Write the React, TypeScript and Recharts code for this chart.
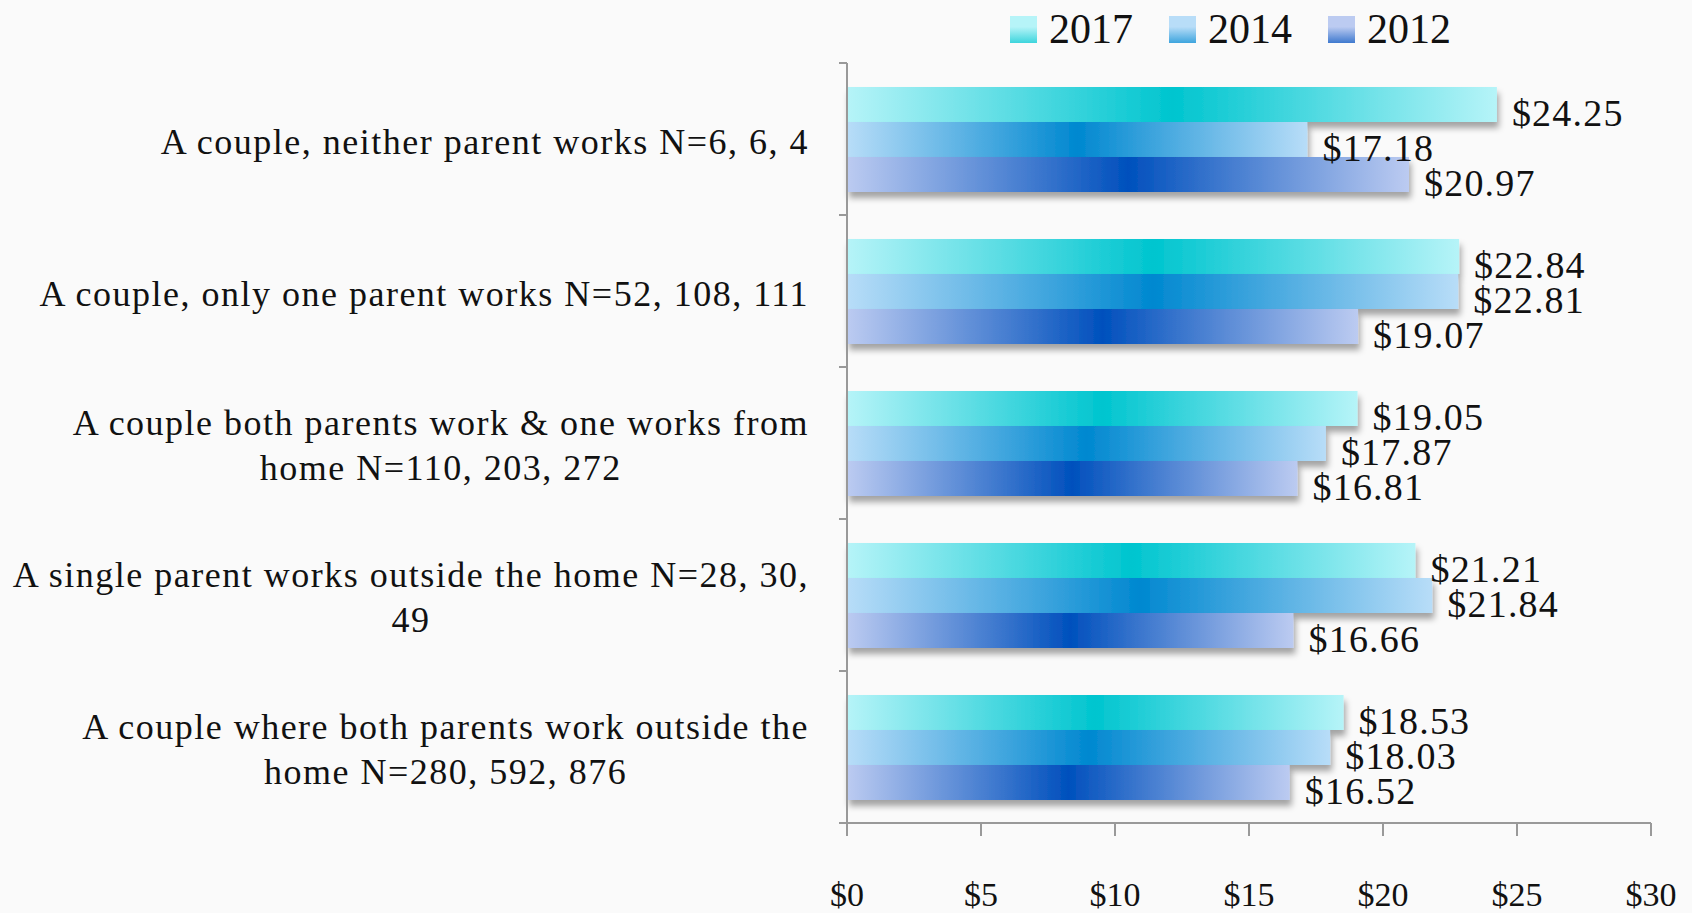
import { useLayoutEffect, useRef, useState } from 'react'
import { BarChart, Bar, XAxis, YAxis, LabelList } from 'recharts'

const categories = [
  'A couple, neither parent works N=6, 6, 4',
  'A couple, only one parent works N=52, 108, 111',
  'A couple both parents work & one works from\nhome N=110, 203, 272',
  'A single parent works outside the home N=28, 30,\n49',
  'A couple where both parents work outside the\nhome N=280, 592, 876',
]
const values2017 = [24.25, 22.84, 19.05, 21.21, 18.53]
const values2014 = [17.18, 22.81, 17.87, 21.84, 18.03]
const values2012 = [20.97, 19.07, 16.81, 16.66, 16.52]
const xTicks = [0, 5, 10, 15, 20, 25, 30]

const series = [
  { key: 'y2017', name: '2017', light: '#b6f4f8', dark: '#00c5cf' },
  { key: 'y2014', name: '2014', light: '#b8ddf8', dark: '#0088d0' },
  { key: 'y2012', name: '2012', light: '#bccbf1', dark: '#0050bd' },
]

const data = categories.map((name, i) => ({
  name,
  y2017: values2017[i],
  y2014: values2014[i],
  y2012: values2012[i],
}))

const FONT = '"Liberation Serif", "Times New Roman", serif'
const HALF_BAND = 76

function CategoryTick(props: any) {
  const { x, y, payload } = props
  const lines: string[] = String(payload.value).split('\n')
  const firstRef = useRef<SVGTextElement>(null)
  const [w, setW] = useState(0)
  useLayoutEffect(() => {
    if (firstRef.current) setW(firstRef.current.getComputedTextLength())
  }, [payload.value])
  const right = x - 38
  const cx = right - w / 2
  const textProps = { fontSize: 36, letterSpacing: 1.5, fill: '#111', fontFamily: FONT, dominantBaseline: 'central' as const }
  return (
    <g>
      <line x1={x - 8} x2={x} y1={y - HALF_BAND} y2={y - HALF_BAND} stroke="#999" strokeWidth={2} />
      <line x1={x - 8} x2={x} y1={y + HALF_BAND} y2={y + HALF_BAND} stroke="#999" strokeWidth={2} />
      {lines.length === 1 ? (
        <text x={right} y={y + 3} textAnchor="end" {...textProps}>
          {lines[0]}
        </text>
      ) : (
        <g>
          <text ref={firstRef} x={right} y={y - 20} textAnchor="end" {...textProps}>
            {lines[0]}
          </text>
          <text x={cx} y={y + 25} textAnchor="middle" {...textProps}>
            {lines[1]}
          </text>
        </g>
      )}
    </g>
  )
}

function DollarTick(props: any) {
  const { x, y, payload } = props
  return (
    <text x={x} y={y + 56} textAnchor="middle" dominantBaseline="central" fontSize={34} fill="#111" fontFamily={FONT}>
      ${payload.value}
    </text>
  )
}

function ValueLabel(props: any) {
  const { x, y, width, height, value } = props
  return (
    <text
      x={x + width + 15}
      y={y + height / 2 + 8}
      dominantBaseline="central"
      fontSize={38}
      letterSpacing={1.2}
      fill="#111"
      fontFamily={FONT}
    >
      ${Number(value).toFixed(2)}
    </text>
  )
}

function ShadowBar(props: any) {
  const { x, y, width, height, fill } = props
  return <rect x={x} y={y} width={width} height={height} fill={fill} filter="url(#barShadow)" />
}

export default function App() {
  return (
    <div
      style={{
        position: 'absolute',
        left: 0,
        top: 0,
        width: 1692,
        height: 913,
        background: '#fafafa',
        fontFamily: FONT,
      }}
    >
      <div style={{ position: 'absolute', top: 6, left: 1010, display: 'flex', alignItems: 'center' }}>
        {series.map((s) => (
          <div key={s.key} style={{ display: 'flex', alignItems: 'center', marginRight: 36 }}>
            <div
              style={{
                width: 27,
                height: 27,
                background: `linear-gradient(to bottom, ${s.light} 40%, ${s.dark} 130%)`,
                marginRight: 12,
              }}
            />
            <span style={{ fontSize: 42, color: '#111', lineHeight: '46px' }}>{s.name}</span>
          </div>
        ))}
      </div>
      <BarChart
        width={1692}
        height={913}
        data={data}
        layout="vertical"
        margin={{ top: 63, right: 41, bottom: 0, left: 0 }}
        barGap={0}
        barCategoryGap={24}
      >
        <defs>
          {series.map((s) => (
            <linearGradient key={s.key} id={`grad-${s.key}`} x1="0" y1="0" x2="1" y2="0">
              <stop offset="0%" stopColor={s.light} />
              <stop offset="50%" stopColor={s.dark} />
              <stop offset="100%" stopColor={s.light} />
            </linearGradient>
          ))}
          <filter id="barShadow" x="-5%" y="-20%" width="115%" height="160%">
            <feDropShadow dx="2" dy="6" stdDeviation="3" floodColor="#000" floodOpacity="0.35" />
          </filter>
        </defs>
        <XAxis
          type="number"
          domain={[0, 30]}
          ticks={xTicks}
          height={90}
          tick={<DollarTick />}
          tickSize={13}
          stroke="#999"
          strokeWidth={2}
          interval={0}
        />
        <YAxis
          type="category"
          dataKey="name"
          width={847}
          tick={<CategoryTick />}
          tickLine={false}
          tickSize={0}
          tickMargin={0}
          stroke="#999"
          strokeWidth={2}
          interval={0}
        />
        {series.map((s) => (
          <Bar
            key={s.key}
            dataKey={s.key}
            name={s.name}
            fill={`url(#grad-${s.key})`}
            shape={<ShadowBar />}
            isAnimationActive={false}
          >
            <LabelList dataKey={s.key} content={<ValueLabel />} />
          </Bar>
        ))}
      </BarChart>
    </div>
  )
}
